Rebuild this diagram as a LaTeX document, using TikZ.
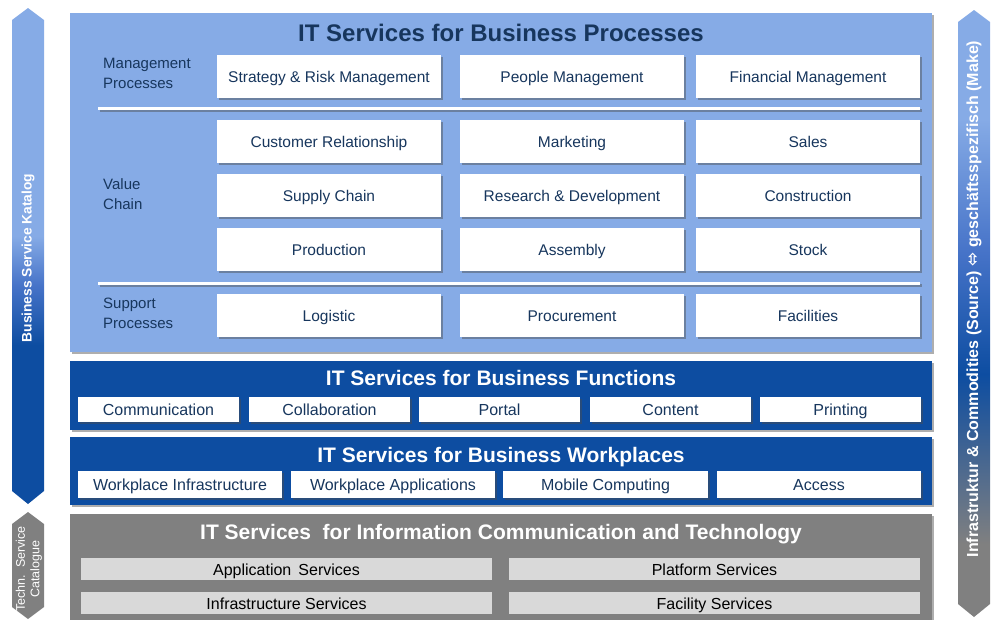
\documentclass[tikz,border=0pt]{standalone}
\usepackage{fontspec}
\setmainfont{Liberation Sans}
\newfontfamily\symfont{DejaVu Sans}
\usetikzlibrary{shadows}
\definecolor{lightpanel}{RGB}{134,171,230}
\definecolor{darkpanel}{RGB}{13,77,161}
\definecolor{graypanel}{RGB}{128,128,128}
\definecolor{graybox}{RGB}{217,217,217}
\definecolor{navytext}{RGB}{23,54,93}
\definecolor{midblue}{RGB}{70,115,200}

\pgfdeclareverticalshading{catalogbar}{100bp}{color(0bp)=(darkpanel); color(41bp)=(darkpanel); color(47bp)=(midblue); color(52bp)=(lightpanel); color(100bp)=(lightpanel)}
\pgfdeclareverticalshading{sourcebar}{100bp}{color(0bp)=(graypanel); color(31bp)=(graypanel); color(45bp)=(darkpanel); color(55bp)=(midblue); color(66bp)=(lightpanel); color(100bp)=(lightpanel)}

\newcommand{\fsz}[1]{\fontsize{#1}{#1}\selectfont}

\tikzset{
  shad/.style={drop shadow={shadow xshift=2pt,shadow yshift=-2pt,opacity=0.45,fill=black!70}},
  panel/.style={shad,inner sep=0pt,minimum width=862pt},
  pbox/.style={shad,fill=white,inner sep=0pt,text=navytext,font=\fsz{15.5},text height=14pt,text depth=2pt,minimum width=224pt,minimum height=43pt},
  fbox/.style={shad,fill=white,inner sep=0pt,text=navytext,font=\fsz{16},text height=14.5pt,text depth=2pt,minimum height=25pt},
  gbox/.style={fill=graybox,inner sep=0pt,text=black,font=\fsz{16},text height=14.5pt,text depth=2pt,minimum width=411pt,minimum height=22pt},
  rowlabel/.style={anchor=west,align=left,text=navytext,font=\fsz{15},inner sep=0pt},
  ptitle/.style={font=\bfseries\fsz{21},inner sep=0pt,text height=16.5pt,text depth=2pt},
  sepline/.style={shad,fill=white},
}

\begin{document}
\begin{tikzpicture}[x=1pt,y=-1pt]
\useasboundingbox (0,0) rectangle (993,619);
\begin{scope}
\clip (0,0) rectangle (993,619);

% side bars
\shade[shading=catalogbar] (12,20) -- (28,8) -- (44,20) -- (44,491) -- (28,504) -- (12,491) -- cycle;
\fill[graypanel] (12,524) -- (28,512) -- (44,524) -- (44,607) -- (28,619) -- (12,607) -- cycle;
\shade[shading=sourcebar] (958,22) -- (974,10) -- (990,22) -- (990,604) -- (974,617) -- (958,604) -- cycle;

\node[rotate=90,text=white,font=\bfseries\fsz{13.8},inner sep=0pt] (bsk) at (28,258) {Business Service Katalog};
\node[rotate=90,text=white,font=\fsz{12.5},align=center,inner sep=0pt] (tsc) at (29,569) {Techn.\ \ Service\\[2pt]Catalogue};
\node[rotate=90,text=white,font=\bfseries\fsz{16},inner sep=0pt] (src) at (974,299) {Infrastruktur \& Commodities (Source) {\symfont\fsz{17}⬄} geschäftsspezifisch (Make)};

% panels
\node[panel,fill=lightpanel,minimum height=339pt] (p1) at (501,182.5) {};
\node[panel,fill=darkpanel,minimum height=69pt] (p2) at (501,395.5) {};
\node[panel,fill=darkpanel,minimum height=68pt] (p3) at (501,471) {};
\node[panel,fill=graypanel,minimum height=120pt] (p4) at (501,574) {};

% titles
\node[ptitle,text=navytext,font=\bfseries\fsz{24},text height=18.5pt] (t1) at (501,33) {IT Services for Business Processes};
\node[ptitle,text=white] (t2) at (501,378) {IT Services for Business Functions};
\node[ptitle,text=white] (t3) at (501,455) {IT Services for Business Workplaces};
\node[ptitle,text=white] (t4) at (501,532) {IT Services\ \ for Information Communication and Technology};

% separators
\fill[sepline] (98,107) rectangle (920,110);
\fill[sepline] (98,282) rectangle (920,285);

% row labels
\node[rowlabel] (lm) at (103,73) {Management\\[5pt]Processes};
\node[rowlabel] (lv) at (103,194) {Value\\[5pt]Chain};
\node[rowlabel] (ls) at (103,313) {Support\\[5pt]Processes};

% business processes
\node[pbox] (b11) at (329,76.5) {Strategy \& Risk Management};
\node[pbox] (b12) at (572,76.5) {People Management};
\node[pbox] (b13) at (808,76.5) {Financial Management};
\node[pbox] (b21) at (329,141.5) {Customer Relationship};
\node[pbox] (b22) at (572,141.5) {Marketing};
\node[pbox] (b23) at (808,141.5) {Sales};
\node[pbox] (b31) at (329,195.5) {Supply Chain};
\node[pbox] (b32) at (572,195.5) {Research \& Development};
\node[pbox] (b33) at (808,195.5) {Construction};
\node[pbox] (b41) at (329,249.5) {Production};
\node[pbox] (b42) at (572,249.5) {Assembly};
\node[pbox] (b43) at (808,249.5) {Stock};
\node[pbox] (b51) at (329,315.5) {Logistic};
\node[pbox] (b52) at (572,315.5) {Procurement};
\node[pbox] (b53) at (808,315.5) {Facilities};

% business functions
\node[fbox,minimum width=161pt] (f1) at (158.5,409.5) {Communication};
\node[fbox,minimum width=161pt] (f2) at (329.5,409.5) {Collaboration};
\node[fbox,minimum width=161pt] (f3) at (499.5,409.5) {Portal};
\node[fbox,minimum width=161pt] (f4) at (670.5,409.5) {Content};
\node[fbox,minimum width=161pt] (f5) at (840.5,409.5) {Printing};

% business workplaces
\node[fbox,minimum width=204pt,minimum height=27pt] (w1) at (180,484.5) {Workplace Infrastructure};
\node[fbox,minimum width=204pt,minimum height=27pt] (w2) at (393,484.5) {Workplace Applications};
\node[fbox,minimum width=205pt,minimum height=27pt] (w3) at (605.5,484.5) {Mobile Computing};
\node[fbox,minimum width=204pt,minimum height=27pt] (w4) at (819,484.5) {Access};

% ICT services
\node[gbox] (g1) at (286.5,569) {Application\ \,Services};
\node[gbox] (g2) at (714.5,569) {Platform Services};
\node[gbox] (g3) at (286.5,603) {Infrastructure Services};
\node[gbox] (g4) at (714.5,603) {Facility Services};
\end{scope}
\end{tikzpicture}
\end{document}
